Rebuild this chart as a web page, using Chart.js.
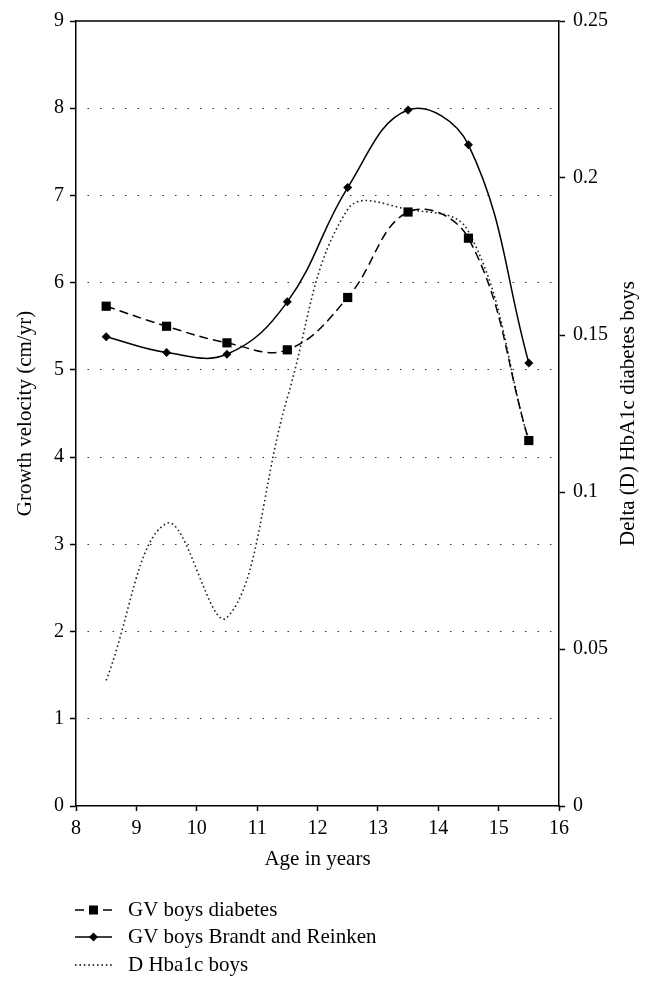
<!DOCTYPE html>
<html>
<head>
<meta charset="utf-8">
<script src="https://cdn.jsdelivr.net/npm/chart.js@4.4.1/dist/chart.umd.min.js"></script>
<style>
  html, body { margin: 0; padding: 0; background: #fff; }
  #wrap { width: 654px; height: 990px; }
</style>
</head>
<body>
<div id="wrap"><canvas id="chart" width="654" height="990"></canvas></div>
<script>
// Data
const ages = [8.5, 9.5, 10.5, 11.5, 12.5, 13.5, 14.5, 15.5];
const gvDiabetes = [5.73, 5.50, 5.31, 5.23, 5.83, 6.81, 6.51, 4.19];
const gvBrandt = [5.38, 5.20, 5.18, 5.78, 7.09, 7.98, 7.58, 5.08];
const dHba1c = [0.040, 0.090, 0.060, 0.130, 0.190, 0.190, 0.183, 0.116];

const seriesNames = ["GV boys diabetes", "GV boys Brandt and Reinken", "D Hba1c boys"];
const xTitle = "Age in years";
const leftTitle = "Growth velocity (cm/yr)";
const rightTitle = "Delta (D) HbA1c diabetes boys";

const FONT = "'Liberation Serif', 'Times New Roman', serif";
const FS = 20;   // tick labels
const FT = 21;   // titles and legend

function toPoints(values) {
  return ages.map((a, i) => ({ x: a, y: values[i] }));
}

// Frame, right axis title and legend
const extras = {
  id: "extras",
  afterDraw(chart) {
    const ctx = chart.ctx;
    const a = chart.chartArea;
    ctx.save();
    ctx.strokeStyle = "#000";
    ctx.lineWidth = 1.5;
    ctx.beginPath();
    ctx.moveTo(a.left, a.top);
    ctx.lineTo(a.right, a.top);
    ctx.stroke();

    ctx.fillStyle = "#000";
    ctx.font = FT + "px " + FONT;
    ctx.textAlign = "center";
    ctx.textBaseline = "middle";
    ctx.translate(628, (a.top + a.bottom) / 2);
    ctx.rotate(-Math.PI / 2);
    ctx.fillText(rightTitle, 0, 0);
    ctx.restore();

    // legend
    const rows = [910, 937, 965];
    chart.data.datasets.forEach((ds, i) => {
      const y = rows[i];
      ctx.save();
      ctx.strokeStyle = "#000";
      ctx.lineWidth = ds.borderWidth;
      ctx.setLineDash(ds.borderDash || []);
      ctx.beginPath();
      ctx.moveTo(75, y);
      ctx.lineTo(112, y);
      ctx.stroke();
      ctx.setLineDash([]);
      ctx.fillStyle = "#000";
      if (ds.pointStyle === "rect") {
        ctx.fillRect(89, y - 4.5, 9, 9);
      } else if (ds.pointStyle === "rectRot") {
        ctx.beginPath();
        ctx.moveTo(93.5, y - 4.5);
        ctx.lineTo(98, y);
        ctx.lineTo(93.5, y + 4.5);
        ctx.lineTo(89, y);
        ctx.closePath();
        ctx.fill();
      }
      ctx.font = FT + "px " + FONT;
      ctx.textAlign = "left";
      ctx.textBaseline = "middle";
      ctx.fillText(ds.label, 128, y);
      ctx.restore();
    });
  }
};

new Chart(document.getElementById("chart"), {
  type: "line",
  data: {
    datasets: [
      {
        label: seriesNames[0],
        data: toPoints(gvDiabetes),
        yAxisID: "y",
        borderColor: "#000",
        backgroundColor: "#000",
        borderWidth: 1.5,
        borderDash: [9, 5],
        pointStyle: "rect",
        pointRadius: 6.5,
        pointBorderWidth: 0,
        tension: 0.4,
        fill: false
      },
      {
        label: seriesNames[1],
        data: toPoints(gvBrandt),
        yAxisID: "y",
        borderColor: "#000",
        backgroundColor: "#000",
        borderWidth: 1.5,
        pointStyle: "rectRot",
        pointRadius: 4.5,
        pointBorderWidth: 0,
        tension: 0.4,
        fill: false
      },
      {
        label: seriesNames[2],
        data: toPoints(dHba1c),
        yAxisID: "y1",
        borderColor: "#222",
        borderWidth: 1.6,
        borderDash: [1.6, 2.8],
        pointRadius: 0,
        tension: 0.4,
        fill: false
      }
    ]
  },
  options: {
    responsive: false,
    animation: false,
    layout: { padding: { top: 21, bottom: 100, left: 0, right: 0 } },
    plugins: { legend: { display: false }, tooltip: { enabled: false } },
    scales: {
      x: {
        type: "linear",
        min: 8,
        max: 16,
        afterFit: (s) => { s.height = 84; },
        ticks: { stepSize: 1, padding: 6, color: "#000", font: { family: FONT, size: FS } },
        grid: { drawOnChartArea: false, tickLength: 5, tickColor: "#000", tickWidth: 1.5 },
        border: { color: "#000", width: 1.5 },
        title: {
          display: true, text: xTitle, color: "#000",
          font: { family: FONT, size: FT }, padding: { top: 0, bottom: 18 }
        }
      },
      y: {
        position: "left",
        min: 0,
        max: 9,
        afterFit: (s) => { s.width = 76; },
        ticks: { stepSize: 1, padding: 6, color: "#000", font: { family: FONT, size: FS } },
        grid: {
          color: (c) => (c.tick && (c.tick.value === 0 || c.tick.value === 9)) ? "rgba(0,0,0,0)" : "#333",
          lineWidth: 1,
          tickLength: 6,
          tickColor: "#000",
          tickWidth: 1.5
        },
        border: { color: "#000", width: 1.5, dash: [1.5, 11], dashOffset: 1.5 },
        title: {
          display: true, text: leftTitle, color: "#000",
          font: { family: FONT, size: FT }, padding: { top: 13, bottom: 0 }
        }
      },
      y1: {
        position: "right",
        min: 0,
        max: 0.25,
        afterFit: (s) => { s.width = 95; },
        ticks: {
          stepSize: 0.05, padding: 8, color: "#000", font: { family: FONT, size: FS },
          callback: (v) => String(+v.toFixed(2))
        },
        grid: { drawOnChartArea: false, tickLength: 6, tickColor: "#000", tickWidth: 1.5 },
        border: { color: "#000", width: 1.5 }
      }
    }
  },
  plugins: [extras]
});
</script>
</body>
</html>
